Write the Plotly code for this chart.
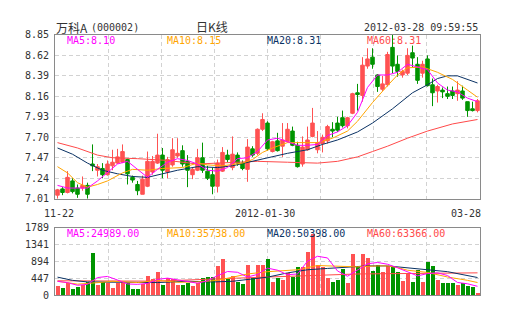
import plotly.graph_objects as go

W, H = 505, 330

# ---------------- data ----------------
opens = [7.05, 7.12, 7.08, 7.21, 7.13, 7.13, 7.16, 7.40, 7.33, 7.35,
         7.28, 7.38, 7.41, 7.42, 7.45, 7.25, 7.17, 7.06, 7.15, 7.31,
         7.41, 7.50, 7.31, 7.39, 7.49, 7.55, 7.43, 7.28, 7.33, 7.47,
         7.32, 7.28, 7.15, 7.32, 7.50, 7.36, 7.50, 7.41, 7.34, 7.57,
         7.52, 7.79, 7.86, 7.54, 7.66, 7.60, 7.65, 7.77, 7.61, 7.40,
         7.56, 7.71, 7.56, 7.63, 7.66, 7.79, 7.86, 7.92, 7.83, 7.97,
         8.20, 8.17, 8.50, 8.60, 8.40, 8.24, 8.29, 8.71, 8.52, 8.40,
         8.42, 8.65, 8.52, 8.42, 8.58, 8.29, 8.22, 8.23, 8.19, 8.22,
         8.19, 8.22, 8.10, 8.02, 8.00]
highs = [7.12, 7.14, 7.32, 7.24, 7.17, 7.26, 7.19, 7.62, 7.40, 7.41,
         7.44, 7.56, 7.57, 7.62, 7.46, 7.27, 7.21, 7.27, 7.54, 7.49,
         7.74, 7.58, 7.48, 7.69, 7.69, 7.61, 7.50, 7.36, 7.57, 7.64,
         7.38, 7.36, 7.45, 7.59, 7.56, 7.71, 7.53, 7.44, 7.68, 7.60,
         7.80, 7.97, 7.88, 7.66, 7.75, 7.86, 7.86, 7.82, 7.65, 7.71,
         7.82, 8.03, 7.77, 7.73, 7.84, 7.87, 7.93, 8.00, 7.93, 8.20,
         8.30, 8.60, 8.70, 8.70, 8.41, 8.39, 8.66, 8.85, 8.62, 8.46,
         8.70, 8.73, 8.60, 8.56, 8.62, 8.36, 8.29, 8.26, 8.27, 8.27,
         8.33, 8.28, 8.10, 8.10, 8.13]
lows = [7.01, 7.05, 7.07, 7.07, 7.02, 7.10, 7.01, 7.32, 7.26, 7.24,
        7.27, 7.33, 7.40, 7.41, 7.17, 7.19, 7.05, 7.06, 7.14, 7.28,
        7.40, 7.24, 7.24, 7.37, 7.47, 7.37, 7.14, 7.23, 7.32, 7.30,
        7.22, 7.06, 7.08, 7.31, 7.42, 7.33, 7.38, 7.33, 7.20, 7.48,
        7.50, 7.77, 7.55, 7.53, 7.54, 7.48, 7.64, 7.60, 7.36, 7.37,
        7.55, 7.70, 7.52, 7.53, 7.63, 7.70, 7.76, 7.81, 7.80, 7.96,
        8.00, 8.10, 8.47, 8.47, 8.21, 8.22, 8.27, 8.42, 8.38, 8.37,
        8.40, 8.49, 8.30, 8.37, 8.27, 8.05, 8.09, 8.14, 8.13, 8.13,
        8.11, 8.12, 7.93, 7.99, 7.98]
closes = [7.11, 7.08, 7.25, 7.09, 7.06, 7.16, 7.06, 7.38, 7.37, 7.28,
          7.40, 7.42, 7.48, 7.54, 7.29, 7.22, 7.10, 7.23, 7.43, 7.43,
          7.50, 7.33, 7.45, 7.56, 7.52, 7.40, 7.33, 7.34, 7.47, 7.33,
          7.24, 7.15, 7.41, 7.53, 7.45, 7.51, 7.41, 7.35, 7.59, 7.50,
          7.79, 7.90, 7.57, 7.65, 7.55, 7.67, 7.79, 7.61, 7.37, 7.59,
          7.67, 7.86, 7.64, 7.70, 7.82, 7.77, 7.78, 7.83, 7.92, 8.19,
          8.18, 8.51, 8.58, 8.52, 8.27, 8.30, 8.63, 8.50, 8.44, 8.44,
          8.62, 8.59, 8.34, 8.52, 8.28, 8.20, 8.27, 8.21, 8.16, 8.17,
          8.23, 8.14, 8.00, 8.00, 8.11]
volumes = [263, 204, 322, 179, 220, 281, 366, 1132, 289, 366,
           332, 204, 332, 366, 332, 161, 179, 306, 519, 434,
           621, 289, 451, 434, 289, 289, 332, 264, 332, 451,
           502, 502, 774, 970, 434, 519, 366, 306, 800, 476,
           818, 818, 961, 348, 476, 417, 588, 502, 749, 757,
           1158, 1643, 818, 757, 476, 366, 417, 690, 332, 1099,
           749, 1089, 987, 647, 818, 621, 774, 757, 620, 391,
           562, 348, 672, 366, 877, 774, 417, 332, 323, 323,
           281, 332, 264, 220, 66]

# moving-average lines (candle index, value)
ma5_idx = [0, 2, 4, 6, 8, 10, 12, 14, 16, 18, 20, 22, 24, 26, 28, 30, 32, 34, 36, 38, 40, 42,
           44, 46, 48, 50, 52, 54, 56, 58, 60, 62, 64, 66, 68, 70, 72, 74, 76, 78, 80, 82, 84]
ma5_val = [7.16, 7.13, 7.13, 7.13, 7.21, 7.30, 7.40, 7.43, 7.34, 7.25, 7.34, 7.42, 7.46, 7.44,
           7.40, 7.33, 7.32, 7.36, 7.46, 7.47, 7.54, 7.67, 7.69, 7.65, 7.61, 7.61, 7.62, 7.72,
           7.76, 7.83, 7.98, 8.26, 8.40, 8.40, 8.43, 8.52, 8.49, 8.46, 8.31, 8.23, 8.21, 8.14, 8.10]
ma10_idx = [0, 2, 4, 6, 8, 10, 13, 15, 18, 21, 25, 28, 30, 33, 37, 39, 41, 43, 46, 52, 55, 58,
            60, 63, 66, 68, 70, 73, 76, 79, 82, 84]
ma10_val = [7.37, 7.30, 7.19, 7.14, 7.17, 7.21, 7.30, 7.34, 7.33, 7.35, 7.36, 7.41, 7.39, 7.38,
            7.41, 7.45, 7.53, 7.58, 7.64, 7.64, 7.69, 7.77, 7.88, 8.09, 8.28, 8.40, 8.48, 8.49,
            8.43, 8.35, 8.23, 8.15]
ma20_idx = [0, 3, 6, 9, 12, 15, 18, 21, 24, 28, 32, 35, 38, 42, 46, 50, 53, 56, 60, 63, 67, 71,
            74, 76, 78, 80, 82, 84]
ma20_val = [7.58, 7.51, 7.41, 7.33, 7.29, 7.26, 7.25, 7.29, 7.33, 7.37, 7.36, 7.38, 7.42, 7.47,
            7.52, 7.56, 7.62, 7.67, 7.76, 7.86, 8.02, 8.20, 8.29, 8.36, 8.39, 8.39, 8.35, 8.31]
ma60_idx = [0, 4, 8, 11, 16, 22, 28, 35, 40, 46, 52, 56, 60, 63, 66, 70, 74, 79, 84]
ma60_val = [7.64, 7.58, 7.50, 7.47, 7.46, 7.44, 7.40, 7.42, 7.43, 7.42, 7.41, 7.43, 7.48, 7.54,
            7.60, 7.69, 7.77, 7.85, 7.90]

vma5_idx = [0, 2, 4, 6, 8, 10, 12, 14, 16, 18, 20, 22, 24, 26, 28, 30, 32, 34, 36, 38, 40, 42,
            44, 46, 48, 50, 52, 54, 56, 58, 60, 62, 64, 66, 68, 70, 72, 74, 76, 78, 80, 82, 84]
vma5_val = [366, 330, 260, 285, 465, 495, 400, 295, 285, 310, 415, 450, 405, 355, 315, 380, 515,
            625, 605, 480, 548, 715, 660, 540, 560, 900, 1030, 985, 640, 500, 655, 830, 865, 818,
            725, 610, 510, 570, 590, 520, 335, 300, 233]
vma10_idx = [0, 4, 8, 11, 16, 20, 24, 28, 32, 35, 38, 42, 48, 52, 55, 57, 60, 64, 66, 68, 70, 74,
             78, 82, 84]
vma10_val = [366, 290, 330, 366, 332, 390, 340, 348, 391, 470, 560, 620, 672, 784, 774, 757, 749,
             774, 774, 731, 660, 600, 480, 391, 333]
vma20_idx = [0, 3, 6, 14, 20, 26, 31, 35, 40, 42, 46, 50, 54, 58, 62, 66, 70, 74, 78, 84]
vma20_val = [476, 391, 348, 332, 332, 366, 348, 366, 440, 476, 588, 672, 707, 731, 774, 774, 731,
             672, 621, 466]
vma60_idx = [0, 20, 40, 60, 84]
vma60_val = [380, 370, 470, 560, 590]

price_ticks = [7.01, 7.24, 7.47, 7.70, 7.93, 8.16, 8.39, 8.62, 8.85]
vol_ticks = [0, 447, 894, 1341, 1789]
x_label_idx = [0, 42, 84]
x_label_text = ["11-22", "2012-01-30", "03-28"]

stock_name = "万科A"
stock_code = "(000002)"
chart_title = "日K线"
timestamp = "2012-03-28 09:59:55"
price_legend = ["MA5:8.10", "MA10:8.15", "MA20:8.31", "MA60:8.31"]
vol_legend = ["MA5:24989.00", "MA10:35738.00", "MA20:50398.00", "MA60:63366.00"]

# ---------------- styling ----------------
RED = "#ff5252"
GREEN = "#009400"
MA_COLORS = ["#ff00ff", "#ffa500", "#0a3264", "#ff4a4a"]
MONO = "DejaVu Sans Mono"
CJK = "Noto Sans CJK SC"
TXT = "#333333"
FRAME = "#8a8a8a"
GRID = "#d2d2d2"


def px(x):
    return x / W


def py(y):
    return 1 - y / H


idx = list(range(len(closes)))
n = len(closes)

fig = go.Figure()

fig.add_trace(go.Candlestick(
    x=idx, open=opens, high=highs, low=lows, close=closes,
    increasing=dict(line=dict(color=RED, width=1), fillcolor=RED),
    decreasing=dict(line=dict(color=GREEN, width=1), fillcolor=GREEN),
    whiskerwidth=0, xaxis="x", yaxis="y", showlegend=False, hoverinfo="skip"))

for xs, ys, col in [(ma60_idx, ma60_val, MA_COLORS[3]), (ma20_idx, ma20_val, MA_COLORS[2]),
                    (ma10_idx, ma10_val, MA_COLORS[1]), (ma5_idx, ma5_val, MA_COLORS[0])]:
    fig.add_trace(go.Scatter(x=xs, y=ys, mode="lines", line=dict(color=col, width=1),
                             xaxis="x", yaxis="y", showlegend=False, hoverinfo="skip"))

bar_colors = [RED if c >= o else GREEN for o, c in zip(opens, closes)]
fig.add_trace(go.Bar(x=idx, y=volumes, marker=dict(color=bar_colors, line=dict(width=0)),
                     width=0.8, xaxis="x2", yaxis="y2", showlegend=False, hoverinfo="skip"))

for xs, ys, col in [(vma60_idx, vma60_val, MA_COLORS[3]), (vma20_idx, vma20_val, MA_COLORS[2]),
                    (vma10_idx, vma10_val, MA_COLORS[1]), (vma5_idx, vma5_val, MA_COLORS[0])]:
    fig.add_trace(go.Scatter(x=xs, y=ys, mode="lines", line=dict(color=col, width=1),
                             xaxis="x2", yaxis="y2", showlegend=False, hoverinfo="skip"))

x_grid = [-0.5 + k * n / 8 for k in range(1, 8)]
xdom = [px(55), px(480)]
common_x = dict(range=[-0.5, n - 0.5], domain=xdom, tickvals=x_grid, showticklabels=False,
                ticks="", showgrid=True, gridcolor=GRID, griddash="4px,3px", gridwidth=1,
                showline=True, linecolor=FRAME, linewidth=1, mirror=True, zeroline=False,
                fixedrange=True)

fig.update_layout(
    width=W, height=H, margin=dict(l=0, r=0, t=0, b=0),
    paper_bgcolor="white", plot_bgcolor="white",
    boxgap=0.3, boxgroupgap=0, bargap=0,
    xaxis=dict(**common_x, anchor="y", rangeslider=dict(visible=False)),
    xaxis2=dict(**common_x, anchor="y2"),
    yaxis=dict(domain=[py(200), py(30)], range=[price_ticks[0], price_ticks[-1]],
               tickvals=price_ticks, ticktext=["%.2f" % v for v in price_ticks],
               ticks="", ticklabelstandoff=3, showgrid=True, gridcolor=GRID,
               griddash="4px,3px", showline=True, linecolor=FRAME, linewidth=1, mirror=True,
               zeroline=False, tickfont=dict(family=MONO, size=10, color=TXT), fixedrange=True),
    yaxis2=dict(domain=[py(300), py(230)], range=[vol_ticks[0], vol_ticks[-1]],
                tickvals=vol_ticks, ticktext=[str(v) for v in vol_ticks],
                ticks="", ticklabelstandoff=3, showgrid=True, gridcolor=GRID,
                griddash="4px,3px", showline=True, linecolor=FRAME, linewidth=1, mirror=True,
                zeroline=False, tickfont=dict(family=MONO, size=10, color=TXT), fixedrange=True),
    showlegend=False,
)

ann = []
# header
ann.append(dict(text=stock_name, x=px(54), y=py(22), xanchor="left", yanchor="middle",
                font=dict(family=CJK, size=12, color=TXT)))
ann.append(dict(text=stock_code, x=px(89), y=py(22), xanchor="left", yanchor="middle",
                font=dict(family=MONO, size=10, color=TXT)))
ann.append(dict(text=chart_title, x=px(212), y=py(21), xanchor="center", yanchor="middle",
                font=dict(family=CJK, size=12, color=TXT)))
ann.append(dict(text=timestamp, x=px(480), y=py(22), xanchor="right", yanchor="middle",
                font=dict(family=MONO, size=10, color=TXT)))
# legends
for k, (t1, t2) in enumerate(zip(price_legend, vol_legend)):
    ann.append(dict(text=t1, x=px(65 + 100 * k), y=py(36), xanchor="left", yanchor="middle",
                    font=dict(family=MONO, size=10, color=MA_COLORS[k])))
    ann.append(dict(text=t2, x=px(65 + 100 * k), y=py(236), xanchor="left", yanchor="middle",
                    font=dict(family=MONO, size=10, color=MA_COLORS[k])))
# x labels
shifts = [1.5, -3, 5.5]
anchors = ["center", "center", "right"]
for i, t, s, a in zip(x_label_idx, x_label_text, shifts, anchors):
    ann.append(dict(text=t, x=i, xref="x", y=py(215), yref="paper", xanchor=a,
                    yanchor="middle", xshift=s, font=dict(family=MONO, size=10, color=TXT)))

for a in ann:
    a.setdefault("xref", "paper")
    a.setdefault("yref", "paper")
    a["showarrow"] = False
fig.update_layout(annotations=ann)

fig.write_html("out.html")
